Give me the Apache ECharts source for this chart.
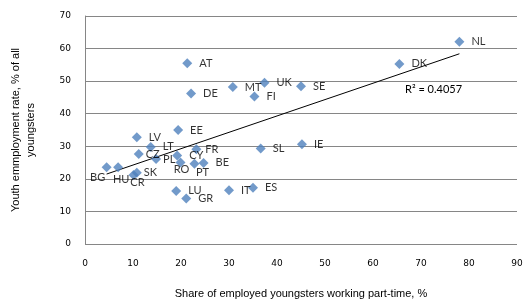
<!DOCTYPE html>
<html>
<head>
<meta charset="utf-8">
<script src="https://cdn.jsdelivr.net/npm/echarts@6/dist/echarts.min.js"></script>
<style>html,body{margin:0;padding:0;background:#fff}#c{width:528px;height:308px}</style>
</head>
<body>
<div id="c"></div>
<script>
var countries = ['AT','DE','MT','UK','FI','SE','NL','DK','EE','LV','LT','FR','SL','IE','CZ','PL','CY','RO','PT','BE','BG','HU','SK','CR','LU','GR','IT','ES'];
var partTime =  [21.3, 22.1, 30.8, 37.4, 35.3, 45.0, 78.0, 65.5, 19.4, 10.8, 13.7, 23.2, 36.6, 45.2, 11.2, 14.8, 19.2, 19.9, 22.8, 24.7, 4.5, 6.9, 10.8, 10.1, 19.0, 21.1, 30.0, 35.0];
var employment = [55.5, 46.2, 48.2, 49.5, 45.3, 48.4, 62.1, 55.3, 35.0, 32.8, 29.8, 29.1, 29.3, 30.6, 27.6, 26.1, 27.2, 25.0, 24.6, 24.9, 23.6, 23.6, 21.9, 21.2, 16.3, 14.0, 16.5, 17.3];
var xTicks = [0,10,20,30,40,50,60,70,80,90];
var yTicks = [0,10,20,30,40,50,60,70];
var r2Text = 'R\u00B2 = 0.4057';

// label placement (style only)
var labelPlace = {
  BG: {position:'inside', offset:[-9,10]},
  HU: {position:'inside', offset:[3,12]},
  CR: {position:'inside', offset:[4,8]},
  RO: {position:'inside', offset:[1,7]},
  PT: {position:'inside', offset:[8,9]},
  CZ: {position:'right', distance:2},
  PL: {position:'right', distance:2},
  SK: {position:'right', distance:2},
  FR: {position:'right', distance:4}
};

// linear regression trend line
var n = partTime.length, sx=0, sy=0, sxx=0, sxy=0;
for (var i=0;i<n;i++){sx+=partTime[i];sy+=employment[i];sxx+=partTime[i]*partTime[i];sxy+=partTime[i]*employment[i];}
var slope = (n*sxy - sx*sy)/(n*sxx - sx*sx);
var icpt = (sy - slope*sx)/n;
var xmin = Math.min.apply(null, partTime), xmax = Math.max.apply(null, partTime);
var trend = [[xmin, icpt+slope*xmin],[xmax, icpt+slope*xmax]];

var pts = countries.map(function(c,i){
  var o = {name:c, value:[partTime[i], employment[i]]};
  if (labelPlace[c]) o.label = labelPlace[c];
  return o;
});

var chart = echarts.init(document.getElementById('c'));
chart.setOption({
  animation:false,
  grid:{left:81, right:11, top:16, bottom:64},
  xAxis:{
    type:'value', min:0, max:90, interval:10,
    axisLine:{show:false}, axisTick:{show:false},
    splitLine:{show:false},
    axisLabel:{color:'#000', fontFamily:'DejaVu Sans', fontSize:9, margin:15},
    name:'Share of employed youngsters working part-time, %',
    nameLocation:'middle', nameGap:44,
    nameTextStyle:{color:'#000', fontFamily:'Liberation Sans', fontSize:11}
  },
  yAxis:{
    type:'value', min:0, max:70, interval:10,
    axisLine:{show:true, lineStyle:{color:'#868686', width:1}}, axisTick:{show:false},
    splitLine:{show:true, lineStyle:{color:'#868686', width:1}},
    axisLabel:{color:'#000', fontFamily:'DejaVu Sans', fontSize:9, margin:14},
    name:'Youth emmployment rate, % of all\nyoungsters',
    nameLocation:'middle', nameGap:47,
    nameTextStyle:{color:'#000', fontFamily:'Liberation Sans', fontSize:11, lineHeight:15, align:'center'}
  },
  series:[
    {
      type:'line', data:trend, symbol:'none', silent:true,
      lineStyle:{color:'#000', width:1}, z:1
    },
    {
      type:'scatter', data:pts, symbol:'diamond', symbolSize:10,
      itemStyle:{color:'#4F81BD'}, z:2,
      label:{show:true, position:'right', distance:7, formatter:'{b}', color:'#000', fontFamily:'Lato', fontSize:11}
    }
  ],
  graphic:[{
    type:'text', left:405, top:84,
    style:{text:r2Text, fill:'#000', font:'11px Lato'}
  }]
});
</script>
</body>
</html>
